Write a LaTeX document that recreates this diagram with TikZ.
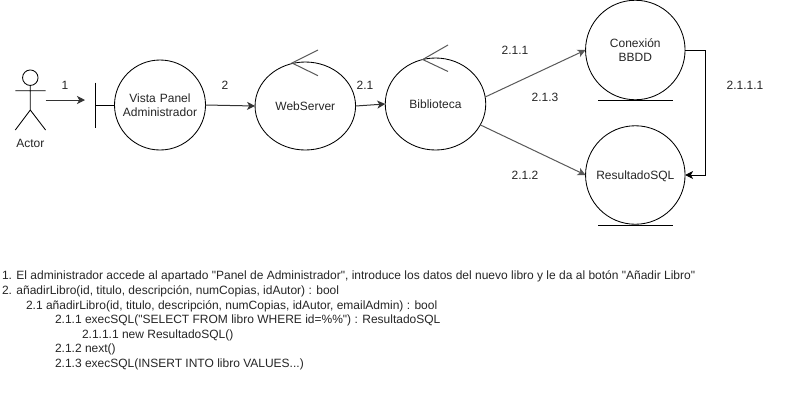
\documentclass[tikz,border=0pt]{standalone}
\usepackage{fontspec}
\setmainfont[Scale=1.2,Ligatures=TeXOff]{Liberation Sans}
\usetikzlibrary{arrows.meta,shapes.geometric}
\tikzset{
  ln/.style={draw=black,line width=0.85pt},
  tip/.style={-{Stealth[length=8pt,width=8pt,inset=2.2pt]}},
  flow/.style={ln,line width=1pt,draw=black!80,tip},
  circ/.style={ellipse,ln,inner sep=0pt,outer sep=0pt,minimum width=#1},
  lab/.style={inner sep=0pt,outer sep=0pt,text height=8.6pt,text depth=0pt,align=center,text=black!85},
  lab2/.style={inner sep=0pt,outer sep=0pt,text width=90pt,align=center,text=black!85},
  txt/.style={lab,anchor=west,text depth=2.5pt}
}
\begin{document}
\begin{tikzpicture}[x=1pt,y=-1pt]
\useasboundingbox (0,0) rectangle (810,416);
\fill[white] (0,0) rectangle (810,416);
% actor
\node[circle,ln,inner sep=0pt,minimum size=15.5pt] (head) at (30.3,77.7) {};
\coordinate (hip) at (30.3,110);
\coordinate (armL) at (15.3,90.7);
\coordinate (armR) at (45.6,90.7);
\coordinate (legL) at (15.3,130);
\coordinate (legR) at (45.6,130);
\draw[ln] (head.south) -- (hip) (armL) -- (armR) (legL) -- (hip) -- (legR);
\node[lab] (actorlabel) at (30.3,143) {Actor};
% boundary
\node[circ=91pt,minimum height=90pt] (vista) at (160,105) {};
\node[lab2] (vistalabel) at (160,105.5) {Vista Panel\\[2pt]Administrador};
\coordinate (barT) at (95.5,82.7);
\coordinate (barB) at (95.5,127.7);
\coordinate (barM) at (95.5,105);
\draw[ln] (barT) -- (barB) (barM) -- (vista.west);
% controls
\node[circ=100.5pt,minimum height=88pt] (web) at (305.3,106) {};
\node[lab] (weblabel) at (305.3,106) {WebServer};
\node[circ=100.5pt,minimum height=92pt] (bib) at (435.5,104) {};
\node[lab] (biblabel) at (435.5,104) {Biblioteca};
\coordinate (webtip) at (292,63);
\coordinate (webA) at (318,50);
\coordinate (webB) at (318,75.7);
\coordinate (bibtip) at (422.7,59.5);
\coordinate (bibA) at (448,45);
\coordinate (bibB) at (448,71.5);
\draw[ln,line width=1pt,draw=black!65] (webA) -- (webtip) -- (webB);
\draw[ln,line width=1pt,draw=black!65] (bibA) -- (bibtip) -- (bibB);
% entities
\node[circ=99.5pt,minimum height=99.5pt] (con) at (635.3,50) {};
\node[lab2] (conlabel) at (635.3,50.5) {Conexión\\[2pt]BBDD};
\node[circ=99.5pt,minimum height=98.5pt] (res) at (635.3,175) {};
\node[lab] (reslabel) at (635.3,175) {ResultadoSQL};
\coordinate (conL) at (598,100);
\coordinate (conR) at (672.7,100);
\coordinate (resL) at (598,225);
\coordinate (resR) at (672.7,225);
\draw[ln] (conL) -- (conR) (resL) -- (resR);
% connectors
\coordinate (actorout) at (45.5,100);
\coordinate (vistain) at (85,100);
\draw[flow] (actorout) -- (vistain);
\draw[flow] (vista.east) -- (web.west);
\draw[flow] (web.east) -- (bib.west);
\draw[flow,draw=black!65] (bib.8) -- (con.west);
\draw[flow,draw=black!65] (bib.-25) -- (res.west);
\draw[ln,tip] (con.east) -- ++(20,0) |- (res.east);
% connector labels
\node[lab] (l1) at (65,85) {1};
\node[lab] (l2) at (225,85) {2};
\node[lab] (l21) at (365,85) {2.1};
\node[lab] (l211) at (515,50) {2.1.1};
\node[lab] (l213) at (545,97) {2.1.3};
\node[lab] (l212) at (525,175) {2.1.2};
\node[lab] (l2111) at (745,85) {2.1.1.1};
% text
\node[txt] (t1) at (2,276) {1. El administrador accede al apartado "Panel de Administrador", introduce los datos del nuevo libro y le da al botón "Añadir Libro"};
\node[txt] (t2) at (2,291) {2. añadirLibro(id, titulo, descripción, numCopias, idAutor) : bool};
\node[txt] (t3) at (26,306) {2.1 añadirLibro(id, titulo, descripción, numCopias, idAutor, emailAdmin) : bool};
\node[txt] (t4) at (55,320.5) {2.1.1 execSQL("SELECT FROM libro WHERE id=\%\%") : ResultadoSQL};
\node[txt] (t5) at (82,335) {2.1.1.1 new ResultadoSQL()};
\node[txt] (t6) at (55,349) {2.1.2 next()};
\node[txt] (t7) at (55,364) {2.1.3 execSQL(INSERT INTO libro VALUES...)};
\end{tikzpicture}
\end{document}
